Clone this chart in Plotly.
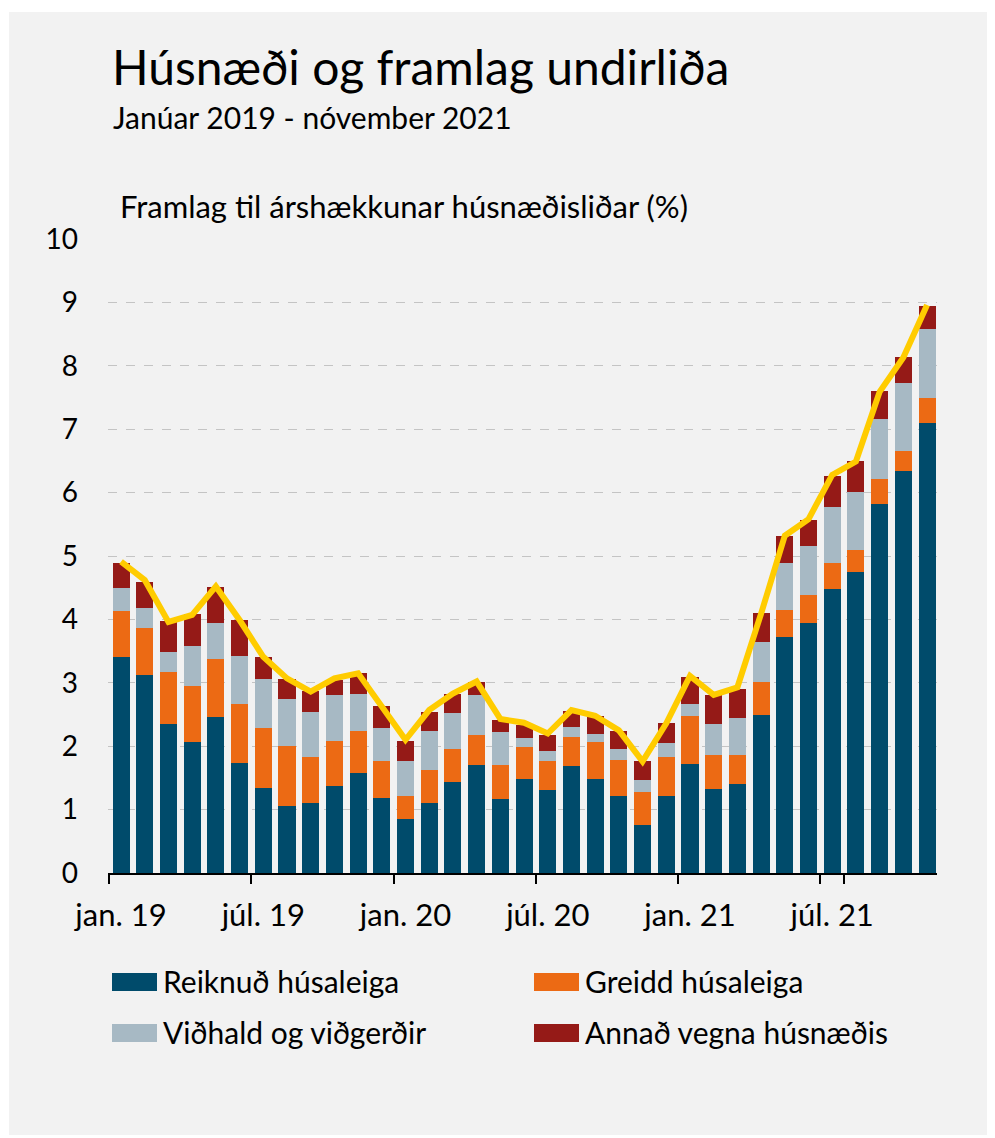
import plotly.graph_objects as go

# months jan 2019 - nov 2021
man = ['jan.', 'feb.', 'mar.', 'apr.', 'maí', 'jún.', 'júl.', 'ágú.', 'sep.', 'okt.', 'nóv.', 'des.']
months = [m + ' ' + y for y in ['19', '20', '21'] for m in man][:35]
tick_months = ['jan. 19', 'júl. 19', 'jan. 20', 'júl. 20', 'jan. 21', 'júl. 21']

reiknud = [3.40, 3.12, 2.35, 2.07, 2.46, 1.74, 1.34, 1.05, 1.10, 1.37, 1.57, 1.19,
           0.85, 1.10, 1.44, 1.70, 1.17, 1.49, 1.31, 1.69, 1.48, 1.22, 0.75, 1.22,
           1.72, 1.33, 1.40, 2.49, 3.72, 3.95, 4.48, 4.74, 5.82, 6.34, 7.09]
greidd = [0.73, 0.74, 0.82, 0.88, 0.92, 0.93, 0.94, 0.96, 0.73, 0.71, 0.67, 0.57,
          0.36, 0.53, 0.52, 0.47, 0.53, 0.49, 0.45, 0.46, 0.59, 0.56, 0.53, 0.61,
          0.75, 0.53, 0.46, 0.52, 0.43, 0.43, 0.41, 0.35, 0.40, 0.32, 0.41]
vidhald = [0.36, 0.32, 0.32, 0.63, 0.57, 0.76, 0.78, 0.73, 0.71, 0.73, 0.59, 0.52,
           0.55, 0.61, 0.57, 0.64, 0.52, 0.15, 0.16, 0.15, 0.13, 0.18, 0.18, 0.22,
           0.19, 0.49, 0.58, 0.64, 0.74, 0.78, 0.88, 0.92, 0.94, 1.07, 1.08]
annad = [0.40, 0.41, 0.48, 0.50, 0.56, 0.56, 0.34, 0.32, 0.33, 0.24, 0.32, 0.35,
         0.32, 0.30, 0.30, 0.20, 0.20, 0.20, 0.26, 0.26, 0.28, 0.28, 0.30, 0.32,
         0.43, 0.45, 0.47, 0.45, 0.43, 0.41, 0.49, 0.49, 0.45, 0.41, 0.36]
samtals = [4.91, 4.62, 3.96, 4.07, 4.52, 3.99, 3.41, 3.07, 2.86, 3.07, 3.15, 2.64,
           2.10, 2.57, 2.83, 3.02, 2.43, 2.37, 2.20, 2.57, 2.48, 2.25, 1.76, 2.36,
           3.11, 2.81, 2.93, 4.09, 5.32, 5.58, 6.28, 6.49, 7.59, 8.13, 8.96]

names = ['Reiknuð húsaleiga', 'Greidd húsaleiga', 'Viðhald og viðgerðir', 'Annað vegna húsnæðis']
y_ticks = [0, 1, 2, 3, 4, 5, 6, 7, 8, 9, 10]

col_blue = '#004B6B'
col_orange = '#EC6A14'
col_grey = '#A7B9C4'
col_red = '#951A17'
col_line = '#FFCC00'
bg = '#F2F2F2'
font = 'Lato'

# page is drawn with an 8px body margin, so the figure is shifted by OFF
OFF = 8
W, H = 995 - OFF, 1138 - OFF
L, R, T, B = 108, 937, 239, 873  # plot area in page pixels


def px(x):
    return (x - L) / (R - L)


def py(y):
    return (B - y) / (B - T)


fig = go.Figure()
series = [reiknud, greidd, vidhald, annad]
colors = [col_blue, col_orange, col_grey, col_red]
for vals, name, c in zip(series, names, colors):
    fig.add_trace(go.Bar(x=months, y=vals, name=name, marker=dict(color=c, line=dict(width=0)),
                         width=0.72, showlegend=False))

fig.add_trace(go.Scatter(x=months, y=samtals, mode='lines', name='Samtals',
                         line=dict(color=col_line, width=6), showlegend=False))

fig.update_layout(
    barmode='stack',
    width=W, height=H,
    margin=dict(l=L - OFF, r=995 - R, t=T - OFF, b=1138 - B),
    paper_bgcolor='white',
    plot_bgcolor=bg,
    font=dict(family=font, color='black'),
)

fig.update_xaxes(
    type='category',
    range=[-0.55, 34.42],
    tickmode='array', tickvals=tick_months, ticktext=tick_months,
    tickson='boundaries',
    tickangle=0,
    ticks='outside', ticklen=9, tickwidth=1.5, tickcolor='black',
    showline=True, linecolor='black', linewidth=1.5,
    showgrid=False,
    tickfont=dict(size=31, family=font),
    ticklabelstandoff=14,
)

fig.update_yaxes(
    range=[0, 10],
    tickvals=y_ticks,
    showgrid=True, gridcolor='#C4C4C4', gridwidth=1, griddash='dash',
    zeroline=False, showline=False, ticks='',
    tickfont=dict(size=28, family=font),
    ticklabelstandoff=29,
)

# grey panel behind everything
fig.add_shape(type='rect', xref='paper', yref='paper', x0=px(9), x1=px(992), y0=py(1135), y1=py(12),
              fillcolor=bg, line=dict(width=0), layer='below')

# titles
fig.add_annotation(text='Húsnæði og framlag undirliða', xref='paper', yref='paper', x=px(110), y=py(67),
                   xanchor='left', yanchor='middle', showarrow=False, font=dict(size=48, family=font))
fig.add_annotation(text='Janúar 2019 - nóvember 2021', xref='paper', yref='paper', x=px(111), y=py(117),
                   xanchor='left', yanchor='middle', showarrow=False, font=dict(size=30, family=font))
fig.add_annotation(text='Framlag til árshækkunar húsnæðisliðar (%)', xref='paper', yref='paper', x=px(118), y=py(206),
                   xanchor='left', yanchor='middle', showarrow=False, font=dict(size=31, family=font))

# legend, 2x2
leg_pos = [(112, 982), (534, 982), (112, 1033), (534, 1033)]
for (lx, ly), name, c in zip(leg_pos, names, colors):
    fig.add_shape(type='rect', xref='paper', yref='paper', x0=px(lx), x1=px(lx + 45),
                  y0=py(ly + 9), y1=py(ly - 9), fillcolor=c, line=dict(width=0))
    fig.add_annotation(text=name, xref='paper', yref='paper', x=px(lx + 49), y=py(ly - 1),
                       xanchor='left', yanchor='middle', showarrow=False, font=dict(size=30, family=font))

fig.write_html('out.html')
